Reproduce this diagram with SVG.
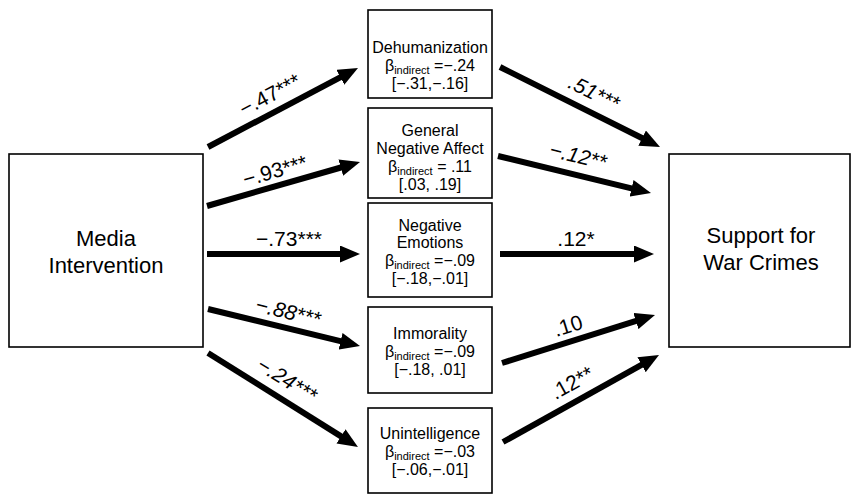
<svg xmlns="http://www.w3.org/2000/svg" width="851" height="495" viewBox="0 0 851 495">
<defs>
<marker id="ah" viewBox="0 0 20 17" markerWidth="20" markerHeight="17" refX="2" refY="8.5" orient="auto" markerUnits="userSpaceOnUse">
<path d="M0,0 L20,8.5 L0,17 z" fill="#000"/>
</marker>
<style>
.box{fill:#fff;stroke:#000;stroke-width:1.6}
.t{font-family:"Liberation Sans",Arial,sans-serif;fill:#000;text-anchor:middle}
.big{font-size:22px}
.med{font-size:16px}
.sub{font-size:11px}
.lab{font-size:21px}
.it{font-style:italic}
.arr{stroke:#000;stroke-width:6;fill:none;marker-end:url(#ah)}
</style>
</defs>
<rect width="851" height="495" fill="#fff"/>
<g id="media">
<rect class="box" x="9" y="154" width="194" height="193"/>
<text class="t big" x="106" y="246">Media</text>
<text class="t big" x="106" y="273">Intervention</text>
</g>
<g id="support">
<rect class="box" x="669" y="154" width="181" height="193"/>
<text class="t big" x="761" y="243">Support for</text>
<text class="t big" x="761" y="270">War Crimes</text>
</g>
<g id="dehumanization">
<rect class="box" x="368" y="10" width="124" height="88"/>
<text class="t med" x="430" y="53">Dehumanization</text>
<text class="t med" x="430" y="71">β<tspan class="sub" dy="3">indirect</tspan><tspan dy="-3"> =−.24</tspan></text>
<text class="t med" x="430" y="89">[−.31,−.16]</text>
</g>
<g id="affect">
<rect class="box" x="368" y="108" width="124" height="90"/>
<text class="t med" x="430" y="136">General</text>
<text class="t med" x="430" y="154">Negative Affect</text>
<text class="t med" x="430" y="172">β<tspan class="sub" dy="3">indirect</tspan><tspan dy="-3"> = .11</tspan></text>
<text class="t med" x="430" y="190">[.03, .19]</text>
</g>
<g id="emotions">
<rect class="box" x="368" y="203" width="124" height="94"/>
<text class="t med" x="430" y="231">Negative</text>
<text class="t med" x="430" y="248">Emotions</text>
<text class="t med" x="430" y="266">β<tspan class="sub" dy="3">indirect</tspan><tspan dy="-3"> =−.09</tspan></text>
<text class="t med" x="430" y="284">[−.18,−.01]</text>
</g>
<g id="immorality">
<rect class="box" x="368" y="307" width="124" height="86"/>
<text class="t med" x="430" y="339">Immorality</text>
<text class="t med" x="430" y="357">β<tspan class="sub" dy="3">indirect</tspan><tspan dy="-3"> =−.09</tspan></text>
<text class="t med" x="430" y="375">[−.18, .01]</text>
</g>
<g id="unintelligence">
<rect class="box" x="368" y="408" width="124" height="85"/>
<text class="t med" x="430" y="439">Unintelligence</text>
<text class="t med" x="430" y="457">β<tspan class="sub" dy="3">indirect</tspan><tspan dy="-3"> =−.03</tspan></text>
<text class="t med" x="430" y="475">[−.06,−.01]</text>
</g>
<g id="connectors">
<line class="arr" x1="208" y1="147" x2="342.1" y2="76.4"/>
<line class="arr" x1="207" y1="206" x2="342.7" y2="167"/>
<line class="arr" x1="207" y1="254" x2="342" y2="254"/>
<line class="arr" x1="208" y1="309" x2="342.5" y2="341.7"/>
<line class="arr" x1="208" y1="353" x2="342.7" y2="437.4"/>
<line class="arr" x1="500" y1="67" x2="643.9" y2="139"/>
<line class="arr" x1="498" y1="156" x2="633.5" y2="188.8"/>
<line class="arr" x1="500" y1="254" x2="636" y2="254"/>
<line class="arr" x1="502" y1="363" x2="637.8" y2="320.4"/>
<line class="arr" x1="503" y1="442" x2="643.3" y2="363.8"/>
<text class="t lab" transform="translate(270,95) rotate(-27.8)" y="7">−.47***</text>
<text class="t lab" transform="translate(275,171) rotate(-16)" y="7">−.93***</text>
<text class="t lab" x="289" y="246">−.73***</text>
<text class="t lab it" transform="translate(288,312) rotate(13.7)" y="7">−.88***</text>
<text class="t lab it" transform="translate(287,380) rotate(32)" y="7">−.24***</text>
<text class="t lab it" transform="translate(594,93) rotate(26.6)" y="7">.51***</text>
<text class="t lab it" transform="translate(578,156) rotate(13.6)" y="7">−.12**</text>
<text class="t lab" x="576" y="246">.12*</text>
<text class="t lab" transform="translate(568,326) rotate(-17.4)" y="7">.10</text>
<text class="t lab" transform="translate(572,383) rotate(-29)" y="7">.12**</text>
</g>
</svg>
